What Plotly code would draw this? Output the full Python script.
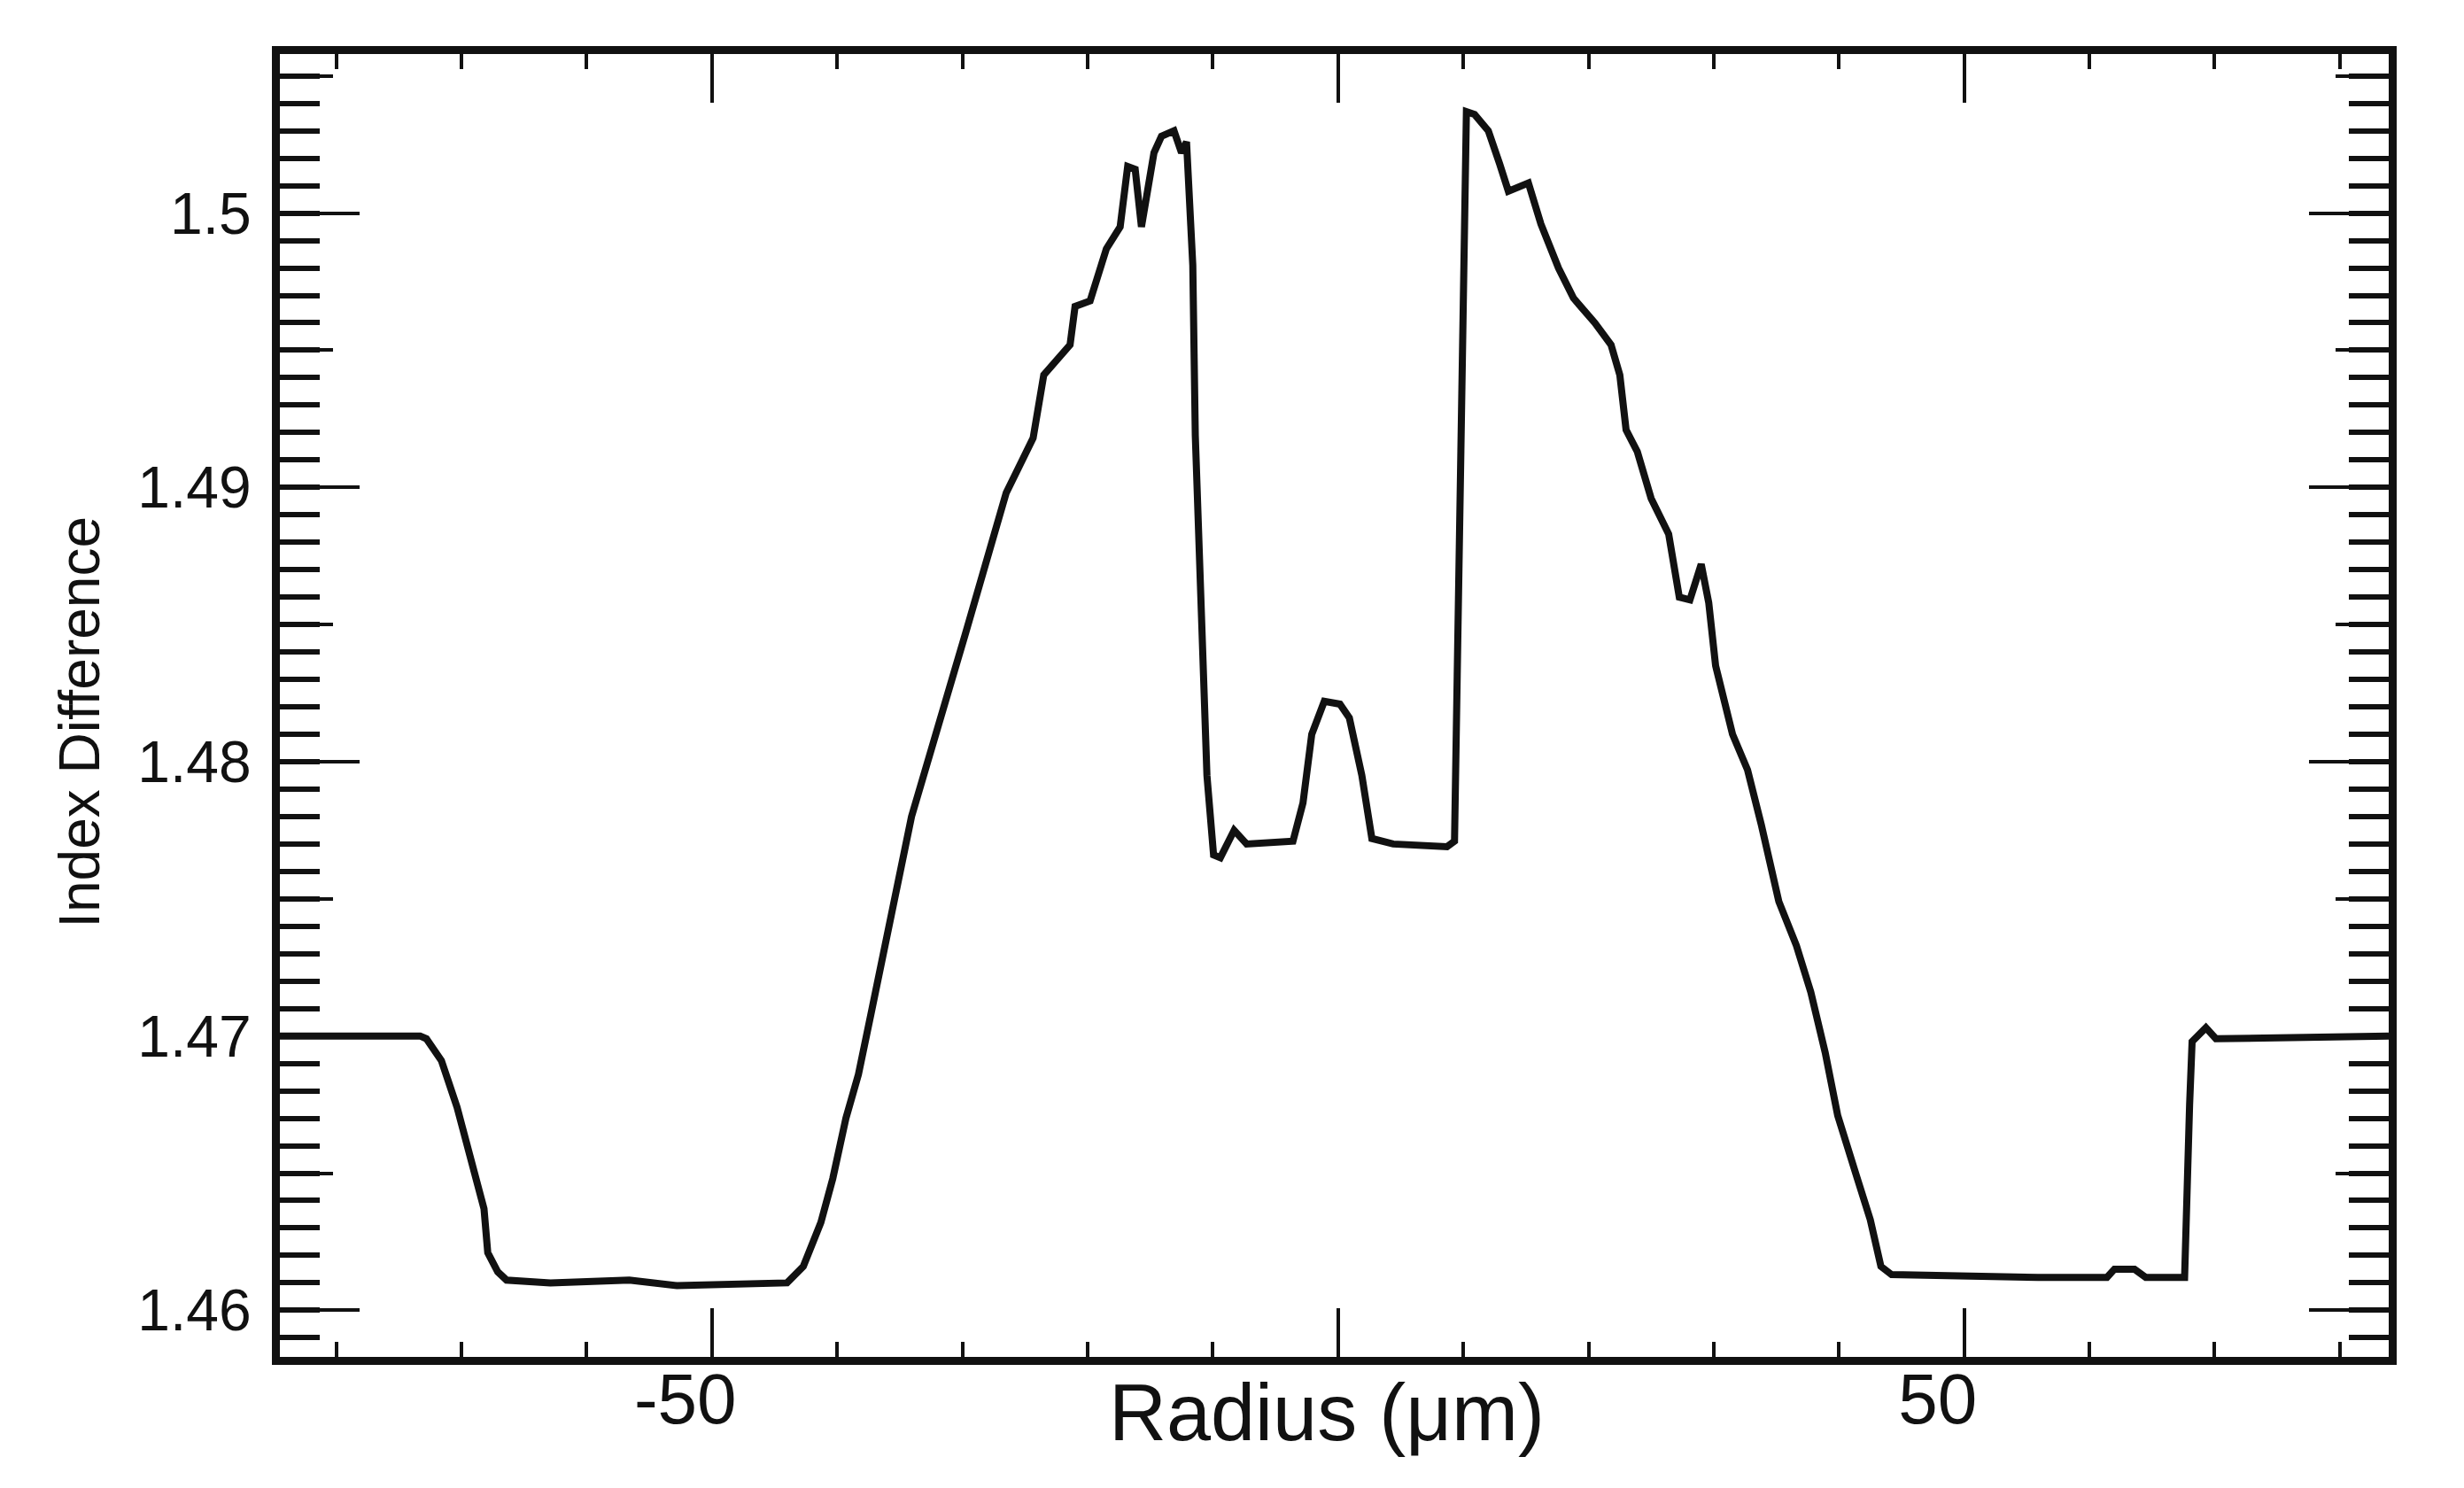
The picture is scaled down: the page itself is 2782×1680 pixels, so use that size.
import plotly.graph_objects as go

radius_um = [-84.5, -73.3, -72.8, -71.6, -70.35, -69.15, -68.2, -67.9, -67.1, -66.4,
             -62.9, -56.6, -52.8, -44.0, -42.7, -41.3, -40.35, -39.3, -38.3, -37.3,
             -34.06, -29.8, -26.5, -24.35, -23.5, -21.4, -21.0, -19.8, -18.5, -17.4,
             -16.8, -16.2, -15.7, -14.7, -14.1, -13.1, -12.5, -12.1, -11.6, -11.4,
             -10.9, -10.47, -9.94, -9.4, -8.3, -7.3, -3.6, -2.8, -2.1, -1.1,
             0.15, 0.9, 1.9, 2.7, 4.4, 8.7, 9.3, 10.25, 10.9, 12.0,
             12.9, 13.6, 15.2, 16.2, 17.6, 18.8, 20.5, 21.8, 22.5, 23.0,
             23.9, 25.0, 26.4, 27.25, 28.1, 29.0, 29.6, 30.15, 31.5, 32.7,
             33.8, 35.2, 36.6, 37.75, 38.9, 39.9, 41.4, 42.5, 43.35, 44.2,
             55.9, 61.4, 62.0, 63.6, 64.5, 67.6, 68.0, 68.2, 69.3, 70.1, 83.9]

index_diff = [1.4700, 1.4700, 1.4699, 1.4691, 1.4674, 1.4653, 1.4637, 1.4621, 1.4614, 1.4611,
              1.4610, 1.4611, 1.4609, 1.4610, 1.4616, 1.4632, 1.4648, 1.4670, 1.4686, 1.4708,
              1.4780, 1.4846, 1.4898, 1.4918, 1.4941, 1.4952, 1.4966, 1.4968, 1.4987, 1.4995,
              1.5017, 1.5016, 1.4995, 1.5022, 1.5028, 1.5030, 1.5022, 1.5026, 1.4981, 1.4919,
              1.4857, 1.4795, 1.4766, 1.4765, 1.4775, 1.4770, 1.4771, 1.4785, 1.4810, 1.4822,
              1.4821, 1.4816, 1.4795, 1.4772, 1.4770, 1.4769, 1.4771, 1.5037, 1.5036, 1.5030,
              1.5018, 1.5008, 1.5011, 1.4996, 1.4980, 1.4969, 1.4960, 1.4952, 1.4941, 1.4921,
              1.4913, 1.4896, 1.4883, 1.4860, 1.4859, 1.4872, 1.4858, 1.4835, 1.4810, 1.4797,
              1.4777, 1.4749, 1.4733, 1.4716, 1.4694, 1.4671, 1.4649, 1.4633, 1.4616, 1.4613,
              1.4612, 1.4612, 1.4615, 1.4615, 1.4612, 1.4612, 1.4675, 1.4698, 1.4703, 1.4699, 1.4700]

x_tickvals = [-50, 0, 50]
x_ticktext = ["-50", "", "50"]
y_tickvals = [1.46, 1.47, 1.48, 1.49, 1.50]
y_ticktext = ["1.46", "1.47", "1.48", "1.49", "1.5"]
y_midticks = [1.465, 1.475, 1.485, 1.495, 1.505]

FONT = "Liberation Sans, Arial, Helvetica, sans-serif"
INK = "#111111"

fig = go.Figure()
fig.add_trace(go.Scatter(x=radius_um, y=index_diff, mode="lines",
                         line=dict(color=INK, width=8), showlegend=False,
                         hoverinfo="skip"))
# invisible companion trace so the secondary (mid-tick) y axis is drawn
fig.add_trace(go.Scatter(x=radius_um, y=index_diff, mode="lines", yaxis="y2",
                         line=dict(color="rgba(0,0,0,0)", width=0), showlegend=False,
                         hoverinfo="skip"))

fig.update_layout(
    width=2782, height=1680,
    margin=dict(l=308, r=93, t=53, b=156),
    paper_bgcolor="white", plot_bgcolor="white",
    font=dict(family=FONT, color=INK),
    xaxis=dict(range=[-84.5, 83.9], tickvals=x_tickvals, ticktext=x_ticktext,
               ticks="inside", ticklen=55, tickwidth=4, tickcolor=INK,
               showline=True, linewidth=9, linecolor=INK, mirror="ticks",
               showgrid=False, zeroline=False,
               tickfont=dict(size=80, family=FONT, color=INK),
               ticklabelstandoff=-30, ticklabelshift=-30,
               minor=dict(tick0=0, dtick=10, ticks="inside", ticklen=17,
                          tickwidth=4, tickcolor=INK, showgrid=False)),
    yaxis=dict(range=[1.4583, 1.5058], tickvals=y_tickvals, ticktext=y_ticktext,
               ticks="inside", ticklen=90, tickwidth=4, tickcolor=INK,
               showline=True, linewidth=9, linecolor=INK, mirror="ticks",
               showgrid=False, zeroline=False,
               tickfont=dict(size=66, family=FONT, color=INK),
               ticklabelstandoff=10,
               minor=dict(tick0=1.46, dtick=0.001, ticks="inside", ticklen=45,
                          tickwidth=6, tickcolor=INK, showgrid=False)),
    yaxis2=dict(overlaying="y", matches="y", side="left", tickvals=y_midticks,
                ticks="inside", ticklen=60, tickwidth=4, tickcolor=INK,
                showticklabels=False, showline=False, mirror="ticks",
                showgrid=False, zeroline=False),
    annotations=[
        dict(text="Radius (μm)", x=0.4963, y=-0.0428, xref="paper", yref="paper",
             xanchor="center", yanchor="middle", showarrow=False,
             font=dict(size=90, family=FONT, color=INK)),
        dict(text="Index Difference", x=-0.095, y=0.4874, xref="paper", yref="paper",
             xanchor="center", yanchor="middle", textangle=-90, showarrow=False,
             font=dict(size=64, family=FONT, color=INK)),
    ],
)

fig.write_html("out.html")
